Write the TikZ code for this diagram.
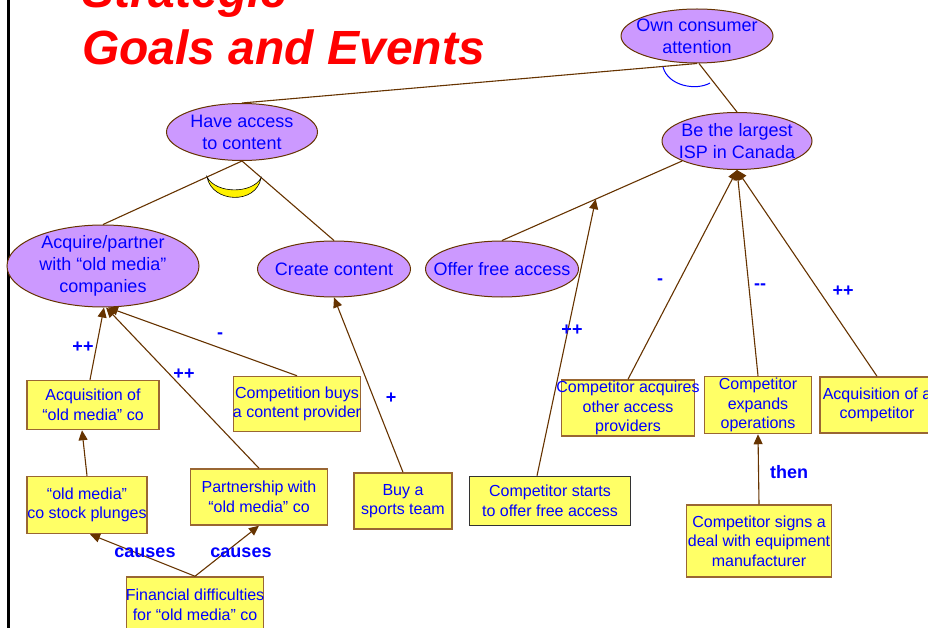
\documentclass[tikz,border=0pt]{standalone}
\usepackage{fontspec}
\setmainfont{Liberation Sans}
\usetikzlibrary{shapes.geometric,arrows.meta,calc}
\definecolor{goalfill}{HTML}{CC99FF}
\definecolor{evfill}{HTML}{FFFF66}
\definecolor{linkbrown}{HTML}{663300}
\definecolor{boxedge}{HTML}{996633}
\definecolor{darkedge}{HTML}{333333}
\definecolor{txtblue}{HTML}{0000FF}
\begin{document}
\begin{tikzpicture}[x=1pt,y=-1pt,
  goal/.style={ellipse, draw=linkbrown, line width=1pt, fill=goalfill, inner sep=0pt},
  gtext/.style={text=txtblue, align=center, inner sep=0pt, font=\fontsize{18}{22}\selectfont},
  event/.style={rectangle, draw=boxedge, line width=1.5pt, fill=evfill, inner sep=0pt},
  etext/.style={text=txtblue, align=center, inner sep=0pt, font=\fontsize{16}{19.5}\selectfont},
  link/.style={draw=linkbrown, line width=1.1pt},
  contrib/.style={link, -{Triangle[length=10pt,width=9pt]}},
  tag/.style={text=txtblue, inner sep=0pt, font=\bfseries\fontsize{18}{20}\selectfont},
  headline/.style={text=red, inner sep=0pt, anchor=base west, font=\bfseries\itshape\fontsize{48}{55}\selectfont}]
\useasboundingbox (0,0) rectangle (928,628);

% frame rule on the left
\coordinate (railtop) at (8,0);
\coordinate (railbot) at (8,628);
\draw[line width=3pt] (railtop) -- (railbot);

% heading
\node[headline] (head1) at (82,8) {Strategic};
\node[headline] (head2) at (82,65) {Goals and Events};

% goals
\node[goal, minimum width=152, minimum height=54,
  label={[gtext]center:Own consumer\\attention}] (oca) at (697,36) {};
\node[goal, minimum width=150, minimum height=57,
  label={[gtext]center:Be the largest\\ISP in Canada}] (ble) at (737,141) {};
\node[goal, minimum width=151, minimum height=57,
  label={[gtext]center:Have access\\to content}] (hac) at (242,132) {};
\node[goal, minimum width=192, minimum height=82,
  label={[gtext]center:Acquire/partner\\with “old media”\\companies}] (acq) at (103,266) {};
\node[goal, minimum width=153, minimum height=56,
  label={[gtext]center:Create content}] (ccn) at (334,269) {};
\node[goal, minimum width=153, minimum height=56,
  label={[gtext]center:Offer free access}] (ofa) at (502,269) {};

% events
\node[event, minimum width=132, minimum height=49,
  label={[etext]center:Acquisition of\\“old media” co}] (aom) at (93,405) {};
\node[event, minimum width=127, minimum height=55,
  label={[etext]center:Competition buys\\a content provider}] (cbp) at (297,404) {};
\node[event, minimum width=133, minimum height=56,
  label={[etext]center:Competitor acquires\\other access\\providers}] (cap) at (628,408) {};
\node[event, minimum width=107, minimum height=57,
  label={[etext]center:Competitor\\expands\\operations}] (cex) at (758,405) {};
\node[event, minimum width=114, minimum height=56,
  label={[etext]center:Acquisition of a\\competitor}] (aoc) at (877,405) {};
\node[event, minimum width=120, minimum height=57,
  label={[etext]center:“old media”\\co stock plunges}] (spl) at (87,505) {};
\node[event, minimum width=137, minimum height=56,
  label={[etext]center:Partnership with\\“old media” co}] (pts) at (259,497) {};
\node[event, minimum width=98, minimum height=56,
  label={[etext]center:Buy a\\sports team}] (buy) at (403,501) {};
\node[event, minimum width=137, minimum height=56,
  label={[etext]center:Financial difficulties\\for “old media” co}] (fin) at (195,605) {};
\node[event, draw=darkedge, minimum width=161, minimum height=49,
  label={[etext]center:Competitor starts\\to offer free access}] (cst) at (550,501) {};
\node[event, minimum width=145, minimum height=72,
  label={[etext]center:Competitor signs a\\deal with equipment\\manufacturer}] (sgn) at (759,541) {};

% decomposition links
\draw[link] (hac.north) -- (oca.south);
\draw[link] (ble.north) -- ($(oca.south)+(2,0)$);
\draw[link] (acq.north) -- (hac.south);
\draw[link] (ccn.north) -- (hac.south);
\draw[link] (ofa.north) -- (ble.200) coordinate[pos=0.52] (ofalink);

% contribution links
\draw[contrib] ($(aom.north)+(-3,0)$) -- ($(acq.south)+(1,0)$);
\draw[contrib] (pts.north) -- ($(acq.south)+(3,0)$);
\draw[contrib] (cbp.north) -- ($(acq.south)+(5,0)$);
\draw[contrib] (buy.north) -- (ccn.south);
\draw[contrib] ($(cst.north)+(-13,0)$) -- (ofalink);
\draw[contrib] (cap.north) -- (ble.south);
\draw[contrib] (cex.north) -- (ble.south);
\draw[contrib] (aoc.north) -- (ble.south);

% event links
\draw[contrib] (spl.north) -- ($(aom.south)+(-11,0)$);
\draw[contrib] (fin.north) -- ($(spl.south)+(3,0)$);
\draw[contrib] (fin.north) -- (pts.south);
\draw[contrib] (sgn.north) -- (cex.south);

% AND marks
\draw[txtblue, line width=1pt] (663,67) .. controls (668,86) and (696,91) .. (710,83);
\draw[fill=yellow, draw=black, line width=0.6pt]
  (207,177) .. controls (212,203) and (256,205) .. (261,178)
  .. controls (252,194) and (216,194) .. (207,177) -- cycle;

% link labels
\node[tag] (l1) at (83,347) {++};
\node[tag] (l2) at (184,374) {++};
\node[tag] (l3) at (220,336) {-};
\node[tag] (l4) at (391,398) {+};
\node[tag] (l5) at (572,330) {++};
\node[tag] (l6) at (660,282) {-};
\node[tag] (l7) at (760,287) {-{}-};
\node[tag] (l8) at (843,291) {++};
\node[tag] (l9) at (145,553) {causes};
\node[tag] (l10) at (241,553) {causes};
\node[tag] (l11) at (789,472) {then};
\end{tikzpicture}
\end{document}
